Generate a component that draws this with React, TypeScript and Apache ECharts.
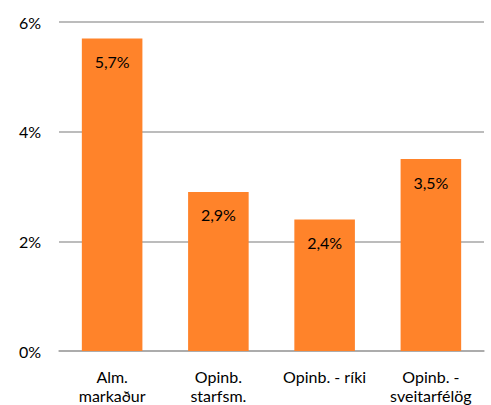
import React, { useEffect, useRef } from "react";
import * as echarts from "echarts";

const categories = ["Alm.\nmarkaður", "Opinb.\nstarfsm.", "Opinb. - ríki", "Opinb. -\nsveitarfélög"];
const values = [5.7, 2.9, 2.4, 3.5];
const yTicks = { min: 0, max: 6, interval: 2 };

export default function App() {
  const ref = useRef<HTMLDivElement>(null);
  useEffect(() => {
    if (!ref.current) return;
    const chart = echarts.init(ref.current, null, { renderer: "svg" });
    chart.setOption({
      animation: false,
      textStyle: { fontFamily: "Lato" },
      grid: { left: 59, right: 7, top: 22, bottom: 54, containLabel: false },
      xAxis: {
        type: "category",
        data: categories,
        axisTick: { show: false },
        axisLine: { lineStyle: { color: "#A6A6A6", width: 1.5 } },
        axisLabel: { color: "#000", fontSize: 16, margin: 16, lineHeight: 19, fontFamily: "Lato", interval: 0 },
      },
      yAxis: {
        type: "value",
        min: yTicks.min,
        max: yTicks.max,
        interval: yTicks.interval,
        axisLabel: { color: "#000", fontSize: 16, margin: 18, fontFamily: "Lato", formatter: (v: number) => `${v}%` },
        splitLine: { lineStyle: { color: "#A6A6A6", width: 1.5 } },
        axisLine: { show: false },
        axisTick: { show: false },
      },
      series: [
        {
          type: "bar",
          data: values,
          barWidth: "57%",
          itemStyle: { color: "#FF832A" },
          label: {
            show: true,
            position: "insideTop",
            distance: 15,
            color: "#000",
            fontSize: 16,
            fontFamily: "Lato",
            formatter: (p: any) => `${String(p.value).replace(".", ",")}%`,
          },
        },
      ],
    });
    return () => chart.dispose();
  }, []);
  return <div ref={ref} style={{ width: 491, height: 405, position: "absolute", left: 0, top: 0 }} />;
}
